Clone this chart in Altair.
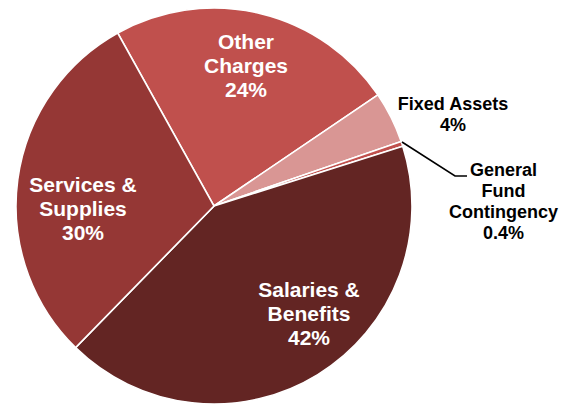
import math
import altair as alt
import pandas as pd

# ---- data ----
categories = ["Other Charges", "Fixed Assets", "General Fund Contingency",
              "Salaries & Benefits", "Services & Supplies"]
shares = [23.6, 4.2, 0.4, 42.2, 29.6]
pct_labels = ["24%", "4%", "0.4%", "42%", "30%"]
name_lines = [["Other", "Charges"], ["Fixed Assets"], ["General", "Fund", "Contingency"],
              ["Salaries &", "Benefits"], ["Services &", "Supplies"]]
slice_colors = ["#C0504D", "#D99694", "#C0504D", "#632523", "#953735"]

# ---- layout (styling constants) ----
W, H = 557, 396
CX, CY, R = 206, 198, 198
START = math.radians(330.9)
FONT = "Liberation Sans"
# offset of each label's first line from the pie centre, in px
label_offset = {
    "Other Charges": (32, -163),
    "Fixed Assets": (239, -101),
    "General Fund Contingency": (289.5, -35.5),
    "Salaries & Benefits": (95, 85),
    "Services & Supplies": (-131, -20),
}
outside = {"Fixed Assets", "General Fund Contingency"}
leader_pts = {"x": [394, 447, 459], "y": [134, 168, 168]}

df = pd.DataFrame({"category": categories, "share": shares,
                   "order": list(range(len(categories)))})


def polar(c):
    dx, dy = label_offset[c]
    return math.atan2(dx, -dy), math.hypot(dx, dy)


lab = pd.DataFrame({
    "category": categories,
    "text": [n + [p] for n, p in zip(name_lines, pct_labels)],
    "theta": [polar(c)[0] for c in categories],
    "radius": [polar(c)[1] for c in categories],
    "outside": [c in outside for c in categories],
})

shadow = alt.Chart(pd.DataFrame({"v": [1]})).mark_arc(
    outerRadius=R + 1.5, color="#c8c8c8"
).encode(theta=alt.Theta("v:Q"), x=alt.value(CX + 1), y=alt.value(CY + 1.5))

pie = alt.Chart(df).mark_arc(
    outerRadius=R, stroke="white", strokeWidth=1.6
).encode(
    theta=alt.Theta("share:Q", stack=True,
                    scale=alt.Scale(range=[START, START + 2 * math.pi])),
    order=alt.Order("order:Q"),
    color=alt.Color("category:N", legend=None,
                    scale=alt.Scale(domain=categories, range=slice_colors)),
    x=alt.value(CX), y=alt.value(CY),
)

inside_text = alt.Chart(lab).transform_filter("!datum.outside").mark_text(
    font=FONT, fontSize=21, fontWeight="bold", color="white",
    align="center", baseline="middle", lineHeight=24
).encode(
    text="text", theta=alt.Theta("theta:Q", scale=None, stack=False),
    radius=alt.Radius("radius:Q", scale=None),
    x=alt.value(CX), y=alt.value(CY),
)

outside_text = alt.Chart(lab).transform_filter("datum.outside").mark_text(
    font=FONT, fontSize=18, fontWeight="bold", color="black",
    align="center", baseline="middle", lineHeight=21.3
).encode(
    text="text", theta=alt.Theta("theta:Q", scale=None, stack=False),
    radius=alt.Radius("radius:Q", scale=None),
    x=alt.value(CX), y=alt.value(CY),
)

leader = alt.Chart(pd.DataFrame({**leader_pts, "i": [0, 1, 2]})).mark_line(
    color="black", strokeWidth=1.6
).encode(x=alt.X("x:Q", scale=None), y=alt.Y("y:Q", scale=None), order="i:Q")

chart = alt.layer(shadow, pie, leader, inside_text, outside_text).properties(
    width=W, height=H, padding=0, autosize=alt.AutoSizeParams(type="none")
).configure_view(stroke=None)

chart.save("out.html", embed_options={"renderer": "svg", "actions": False})
